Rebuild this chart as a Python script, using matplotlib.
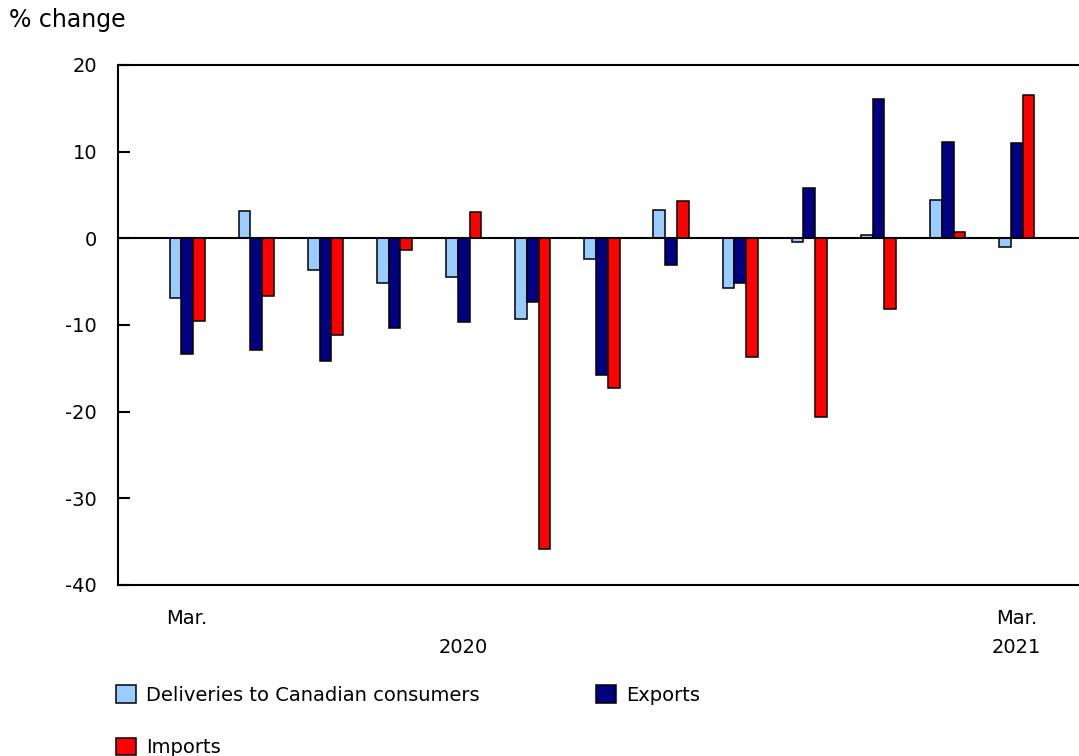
import numpy as np
import matplotlib
matplotlib.use("Agg")
import matplotlib.pyplot as plt
from matplotlib.patches import Patch

# monthly % change, Mar. 2020 .. Mar. 2021
months = ["Mar.", "Apr.", "May", "June", "July", "Aug.", "Sept.", "Oct.", "Nov.", "Dec.", "Jan.", "Feb.", "Mar."]
deliveries = [-6.9, 3.2, -3.7, -5.2, -4.5, -9.3, -2.4, 3.3, -5.7, -0.4, 0.4, 4.4, -1.0]
exports = [-13.4, -12.9, -14.2, -10.4, -9.6, -7.3, -15.8, -3.1, -5.2, 5.8, 16.1, 11.1, 11.0]
imports = [-9.5, -6.6, -11.2, -1.3, 3.0, -35.8, -17.3, 4.3, -13.7, -20.6, -8.2, 0.7, 16.5]

series_names = ["Deliveries to Canadian consumers", "Exports", "Imports"]
colors = ["#99CCFF", "#000080", "#FF0000"]

plt.rcParams['font.family'] = ['DejaVu Sans']
plt.rcParams['axes.unicode_minus'] = False
fs = 14

fig = plt.figure(figsize=(10.79, 7.56), dpi=100)
ax = fig.add_axes([118 / 1079, 171 / 756, 961 / 1079, 520 / 756])

x = np.arange(len(months))
w = 0.17
for i, (vals, c) in enumerate(zip([deliveries, exports, imports], colors)):
    ax.bar(x + (i - 1) * w, vals, width=w, color=c, edgecolor="black", linewidth=1.1, zorder=3)

ax.axhline(0, color="black", linewidth=1.5, zorder=4)

ax.set_xlim(-1.0, 12.9)
ax.set_ylim(-40, 20)
ax.set_yticks(np.arange(-40, 21, 10))
ax.tick_params(axis="y", direction="in", length=8.5, width=1.5, labelsize=fs, pad=15)
ax.set_xticks([])
ax.spines["right"].set_visible(False)
for s in ["left", "top", "bottom"]:
    ax.spines[s].set_linewidth(1.5)

# month / year labels under the axis
tr = ax.get_xaxis_transform()
ax.text(x[0], -0.0635, months[0], ha="center", va="center", fontsize=fs, transform=tr)
ax.text(x[-1], -0.0635, months[-1], ha="center", va="center", fontsize=fs, transform=tr)
ax.text(x[4], -0.121, "2020", ha="center", va="center", fontsize=fs, transform=tr)
ax.text(x[-1], -0.121, "2021", ha="center", va="center", fontsize=fs, transform=tr)

fig.text(9 / 1079, 1 - 20 / 756, "% change", ha="left", va="center", fontsize=17)

# legend: fills column-wise, so order the handles to get rows like the original
handles = [Patch(facecolor=c, edgecolor="black", linewidth=1.1) for c in colors]
order = [0, 2, 1]
fig.legend([handles[i] for i in order], [series_names[i] for i in order],
           loc="upper left", bbox_to_anchor=(116 / 1079, 1 - 685 / 756),
           ncol=2, frameon=False, fontsize=fs, handlelength=1.03, handleheight=1.03,
           handletextpad=0.5, columnspacing=6.0, labelspacing=1.7,
           borderaxespad=0, borderpad=0)

fig.savefig("out.png", dpi=100)
